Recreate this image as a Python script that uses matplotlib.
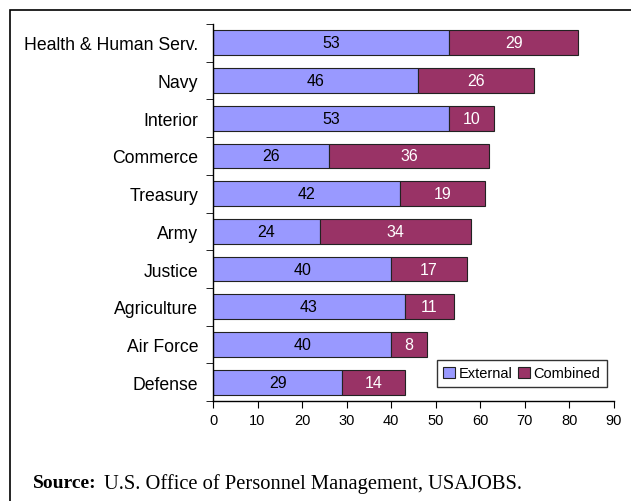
import numpy as np
import matplotlib
matplotlib.use("Agg")
import matplotlib.pyplot as plt
from matplotlib.patches import Rectangle

agencies = ["Health & Human Serv.", "Navy", "Interior", "Commerce", "Treasury",
            "Army", "Justice", "Agriculture", "Air Force", "Defense"]
external = [53, 46, 53, 26, 42, 24, 40, 43, 40, 29]
combined = [29, 26, 10, 36, 19, 34, 17, 11, 8, 14]

ext_color = "#9999FF"
comb_color = "#993366"

plt.rcParams['font.family'] = ['Liberation Sans', 'DejaVu Sans']

fig = plt.figure(figsize=(6.31, 5.02), dpi=100)
ax = fig.add_axes([213/631, 1 - 402/502, (614 - 213)/631, (402 - 25)/502])

y = np.arange(len(agencies))[::-1]
ax.barh(y, external, height=0.66, color=ext_color, edgecolor="#222222", linewidth=0.8, label="External")
ax.barh(y, combined, left=external, height=0.66, color=comb_color, edgecolor="#222222", linewidth=0.8, label="Combined")

for i in range(len(agencies)):
    ax.text(external[i] / 2, y[i], str(external[i]), ha="center", va="center", fontsize=11.5, color="black")
    ax.text(external[i] + combined[i] / 2, y[i], str(combined[i]), ha="center", va="center", fontsize=11.5, color="white")

ax.set_xlim(0, 90)
ax.set_ylim(-0.5, len(agencies) - 0.5)
ax.set_xticks(np.arange(0, 91, 10))
ax.set_yticks(y)
ax.set_yticklabels(agencies, fontsize=12.7)
ax.set_yticks(np.arange(-0.5, len(agencies), 1), minor=True)
ax.tick_params(axis="y", which="major", length=0, pad=10.5)
ax.tick_params(axis="y", which="minor", length=5, direction="out")
ax.tick_params(axis="x", length=5, direction="out", labelsize=10.5)
for s in ["top", "right"]:
    ax.spines[s].set_visible(False)
ax.spines["left"].set_linewidth(1)
ax.spines["bottom"].set_linewidth(1)

leg = ax.legend(loc="lower right", bbox_to_anchor=(607/631, 1 - 388/502), bbox_transform=fig.transFigure,
                ncol=2, fontsize=10.5, frameon=True, fancybox=False, edgecolor="black", borderaxespad=0,
                handlelength=0.8, handleheight=0.8, handletextpad=0.25, columnspacing=0.4, borderpad=0.45)
leg.get_frame().set_linewidth(1)

fig.patches.append(Rectangle((10/631, -0.01), 1, 1 - 11/502 + 0.01, transform=fig.transFigure,
                             fill=False, edgecolor="black", linewidth=1.2))

fig.text(33/631, 1 - 484/502, "Source:", fontsize=14, fontweight="bold", family="Liberation Serif", va="center")
fig.text(104/631, 1 - 484/502, "U.S. Office of Personnel Management, USAJOBS.", fontsize=14.8,
         family="Liberation Serif", va="center")

fig.savefig("out.png", dpi=100)
